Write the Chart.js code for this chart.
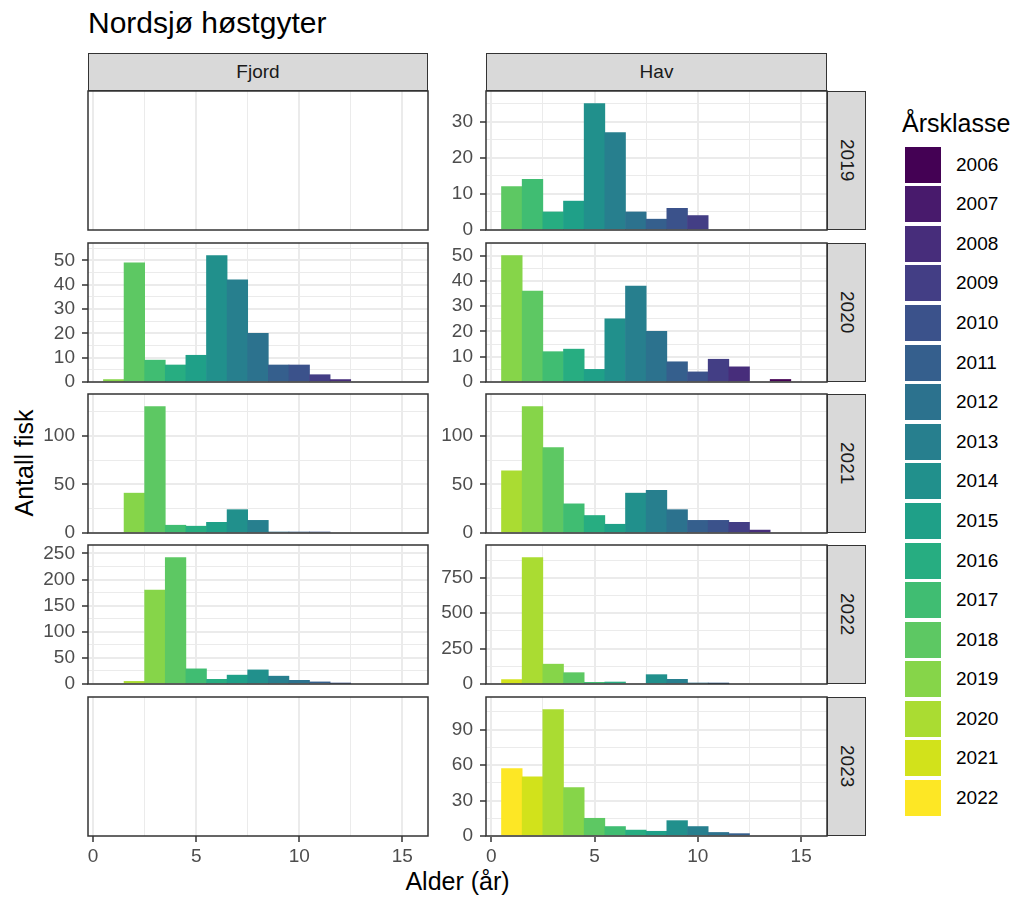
<!DOCTYPE html>
<html>
<head>
<meta charset="utf-8">
<script src="https://cdn.jsdelivr.net/npm/chart.js@4.4.1/dist/chart.umd.min.js"></script>
<style>
  html, body { margin: 0; padding: 0; background: #ffffff; }
  body { width: 1016px; height: 899px; position: relative; overflow: hidden;
         font-family: "Liberation Sans", Arial, Helvetica, sans-serif; }
  .txt { position: absolute; white-space: nowrap; }
  .strip { position: absolute; box-sizing: border-box; background: #D9D9D9;
           border: 1.5px solid #333333; color: #1A1A1A; font-size: 19px;
           display: flex; align-items: center; justify-content: center; }
  .vstrip span { writing-mode: vertical-rl; }
  canvas { position: absolute; }
  .key { position: absolute; width: 36px; height: 36px; }
  .klab { position: absolute; font-size: 19px; color: #000; line-height: 36px; }
</style>
</head>
<body>
<script>
// ---------------- data ----------------
const title = 'Nordsjø høstgyter';
const xTitle = 'Alder (år)';
const yTitle = 'Antall fisk';
const legendTitle = 'Årsklasse';
const regions = ['Fjord', 'Hav'];
const years = [2019, 2020, 2021, 2022, 2023];
const ages = [1, 2, 3, 4, 5, 6, 7, 8, 9, 10, 11, 12, 13, 14, 15];
const yearClasses = [2006, 2007, 2008, 2009, 2010, 2011, 2012, 2013, 2014,
                     2015, 2016, 2017, 2018, 2019, 2020, 2021, 2022];
const classColors = ['#440154', '#481A6C', '#472D7B', '#433E85', '#3B528B', '#355F8D',
                     '#2C728E', '#277F8E', '#21908C', '#1FA088', '#27AD81', '#40BD72',
                     '#5DC863', '#86D549', '#AADC32', '#D2E21B', '#FDE725'];

// counts per age (index 0 = age 1), null = no fish
const fjord2019 = [];
const fjord2020 = [1, 49, 9, 7, 11, 52, 42, 20, 7, 7, 3, 1];
const fjord2021 = [null, 41, 130, 8, 7, 11, 24, 13, 1, 1, 1];
const fjord2022 = [null, 5, 180, 242, 29, 9, 17, 27, 15, 7, 4, 1];
const fjord2023 = [];
const hav2019 = [12, 14, 5, 8, 35, 27, 5, 3, 6, 4];
const hav2020 = [50, 36, 12, 13, 5, 25, 38, 20, 8, 4, 9, 6, null, 1];
const hav2021 = [64, 130, 88, 30, 18, 9, 41, 44, 24, 13, 13, 11, 3];
const hav2022 = [31, 892, 140, 80, 12, 14, null, 66, 33, 5, 2];
const hav2023 = [57, 50, 107, 41, 15, 8, 5, 4, 13, 8, 3, 2];

// tick labels
const xTickLabels = [0, 5, 10, 15];
const fjordYStep = [null, 10, 50, 50, null];
const havYStep = [10, 10, 50, 250, 30];

// ---------------- layout ----------------
const fjordCounts = [fjord2019, fjord2020, fjord2021, fjord2022, fjord2023];
const havCounts = [hav2019, hav2020, hav2021, hav2022, hav2023];
const countsByRegion = [fjordCounts, havCounts];
const stepsByRegion = [fjordYStep, havYStep];

const colLeft = [88, 486];
const colW = [340, 341];
const rowTop = [91, 243, 394, 545, 697];
const rowH = 139;
const stripTop = 52.5, stripH = 38.5;
const rStripLeft = 827, rStripW = 39;

Chart.defaults.font.family = '"Liberation Sans", Arial, Helvetica, sans-serif';

function addText(txt, css) {
  const d = document.createElement('div');
  d.className = 'txt';
  d.textContent = txt;
  Object.assign(d.style, css);
  document.body.appendChild(d);
  return d;
}

// title
addText(title, { left: '88px', top: '8px', fontSize: '30px', lineHeight: '30px', color: '#000' });
// x axis title
addText(xTitle, { left: '457.5px', top: '869px', fontSize: '25px', lineHeight: '25px', color: '#000', transform: 'translateX(-50%)' });
// y axis title
addText(yTitle, { left: '23.5px', top: '463px', fontSize: '25px', lineHeight: '25px', color: '#000',
  transform: 'translate(-50%,-50%) rotate(-90deg)' });

// strips
regions.forEach((reg, c) => {
  const s = document.createElement('div');
  s.className = 'strip';
  Object.assign(s.style, { left: colLeft[c] + 'px', top: stripTop + 'px', width: colW[c] + 'px', height: stripH + 'px' });
  s.textContent = reg;
  document.body.appendChild(s);
});
years.forEach((yr, r) => {
  const s = document.createElement('div');
  s.className = 'strip vstrip';
  Object.assign(s.style, { left: rStripLeft + 'px', top: rowTop[r] + 'px', width: rStripW + 'px', height: rowH + 'px' });
  const sp = document.createElement('span');
  sp.textContent = String(yr);
  s.appendChild(sp);
  document.body.appendChild(s);
});

// legend
addText(legendTitle, { left: '902px', top: '111px', fontSize: '25px', lineHeight: '25px', color: '#000' });
yearClasses.forEach((yc, i) => {
  const top = 146.7 + i * 39.58;
  const k = document.createElement('div');
  k.className = 'key';
  Object.assign(k.style, { left: '905px', top: top + 'px', background: classColors[i] });
  document.body.appendChild(k);
  const l = document.createElement('div');
  l.className = 'klab';
  Object.assign(l.style, { left: '956px', top: top + 'px' });
  l.textContent = String(yc);
  document.body.appendChild(l);
});

// x grid values: majors and midpoints
const xGridValues = [];
xTickLabels.forEach((v, i) => {
  xGridValues.push(v);
  if (i < xTickLabels.length - 1) xGridValues.push((v + xTickLabels[i + 1]) / 2);
});

const panelBorder = {
  id: 'panelBorder',
  afterDatasetsDraw(chart) {
    const { ctx, chartArea: a } = chart;
    ctx.save();
    ctx.strokeStyle = '#333333';
    ctx.lineWidth = 1.5;
    ctx.strokeRect(a.left, a.top, a.right - a.left, a.bottom - a.top);
    ctx.restore();
  }
};

const GRID = '#EBEBEB';
years.forEach((year, r) => {
  const last = r === years.length - 1;
  regions.forEach((reg, c) => {
    const counts = countsByRegion[c][r];
    const step = stepsByRegion[c][r];
    const hasData = counts.some(v => v != null);
    const L = 70, T = 25, R = 25, B = last ? 45 : 25;
    const cv = document.createElement('canvas');
    const W = colW[c] + L + R, H = rowH + T + B;
    cv.width = W; cv.height = H;
    Object.assign(cv.style, { left: (colLeft[c] - L) + 'px', top: (rowTop[r] - T) + 'px', width: W + 'px', height: H + 'px' });
    document.body.appendChild(cv);

    const pts = [], cols = [];
    counts.forEach((v, i) => {
      if (v == null) return;
      const age = ages[i];
      pts.push({ x: age, y: v });
      cols.push(classColors[yearClasses.indexOf(year - age)]);
    });
    const maxVal = hasData ? Math.max(...pts.map(p => p.y)) : 1;
    const yMax = maxVal * 1.1;
    const yTicks = [];
    if (step) for (let k = 0; k * step / 2 <= yMax; k++) yTicks.push(k * step / 2);

    new Chart(cv, {
      type: 'bar',
      data: { datasets: [{ data: pts, backgroundColor: cols, borderWidth: 0,
                           barPercentage: 1, categoryPercentage: 1 }] },
      options: {
        responsive: false, animation: false, devicePixelRatio: 1,
        layout: { padding: { left: 0, top: T, right: R, bottom: last ? 0 : B } },
        plugins: { legend: { display: false }, tooltip: { enabled: false } },
        scales: {
          x: {
            type: 'linear', min: -0.25, max: 16.25, offset: false,
            afterBuildTicks: s => { s.ticks = xGridValues.map(v => ({ value: v })); },
            afterFit: s => { s.height = last ? B : 0; },
            border: { display: false },
            grid: {
              offset: false,
              color: GRID,
              lineWidth: ctx => (ctx.tick && xTickLabels.includes(ctx.tick.value)) ? 2 : 1,
              drawTicks: last, tickLength: 6, tickWidth: 1.5,
              tickColor: ctx => (ctx.tick && xTickLabels.includes(ctx.tick.value)) ? '#333333' : 'rgba(0,0,0,0)'
            },
            ticks: {
              display: last, autoSkip: false, maxRotation: 0, padding: 3,
              color: '#4D4D4D', font: { size: 19 },
              callback: v => xTickLabels.includes(v) ? String(v) : ''
            }
          },
          y: {
            type: 'linear', display: hasData, min: 0, max: yMax,
            afterBuildTicks: s => { s.ticks = yTicks.map(v => ({ value: v })); },
            afterFit: s => { s.width = L; },
            border: { display: false },
            grid: {
              color: GRID,
              lineWidth: ctx => (ctx.tick && step && ctx.tick.value % step === 0) ? 2 : 1,
              drawTicks: true, tickLength: 6, tickWidth: 1.5,
              tickColor: ctx => (ctx.tick && step && ctx.tick.value % step === 0) ? '#333333' : 'rgba(0,0,0,0)'
            },
            ticks: {
              autoSkip: false, padding: 7, color: '#4D4D4D', font: { size: 19 },
              callback: v => (step && v % step === 0) ? String(v) : ''
            }
          }
        }
      },
      plugins: [panelBorder]
    });
  });
});
</script>
</body>
</html>
